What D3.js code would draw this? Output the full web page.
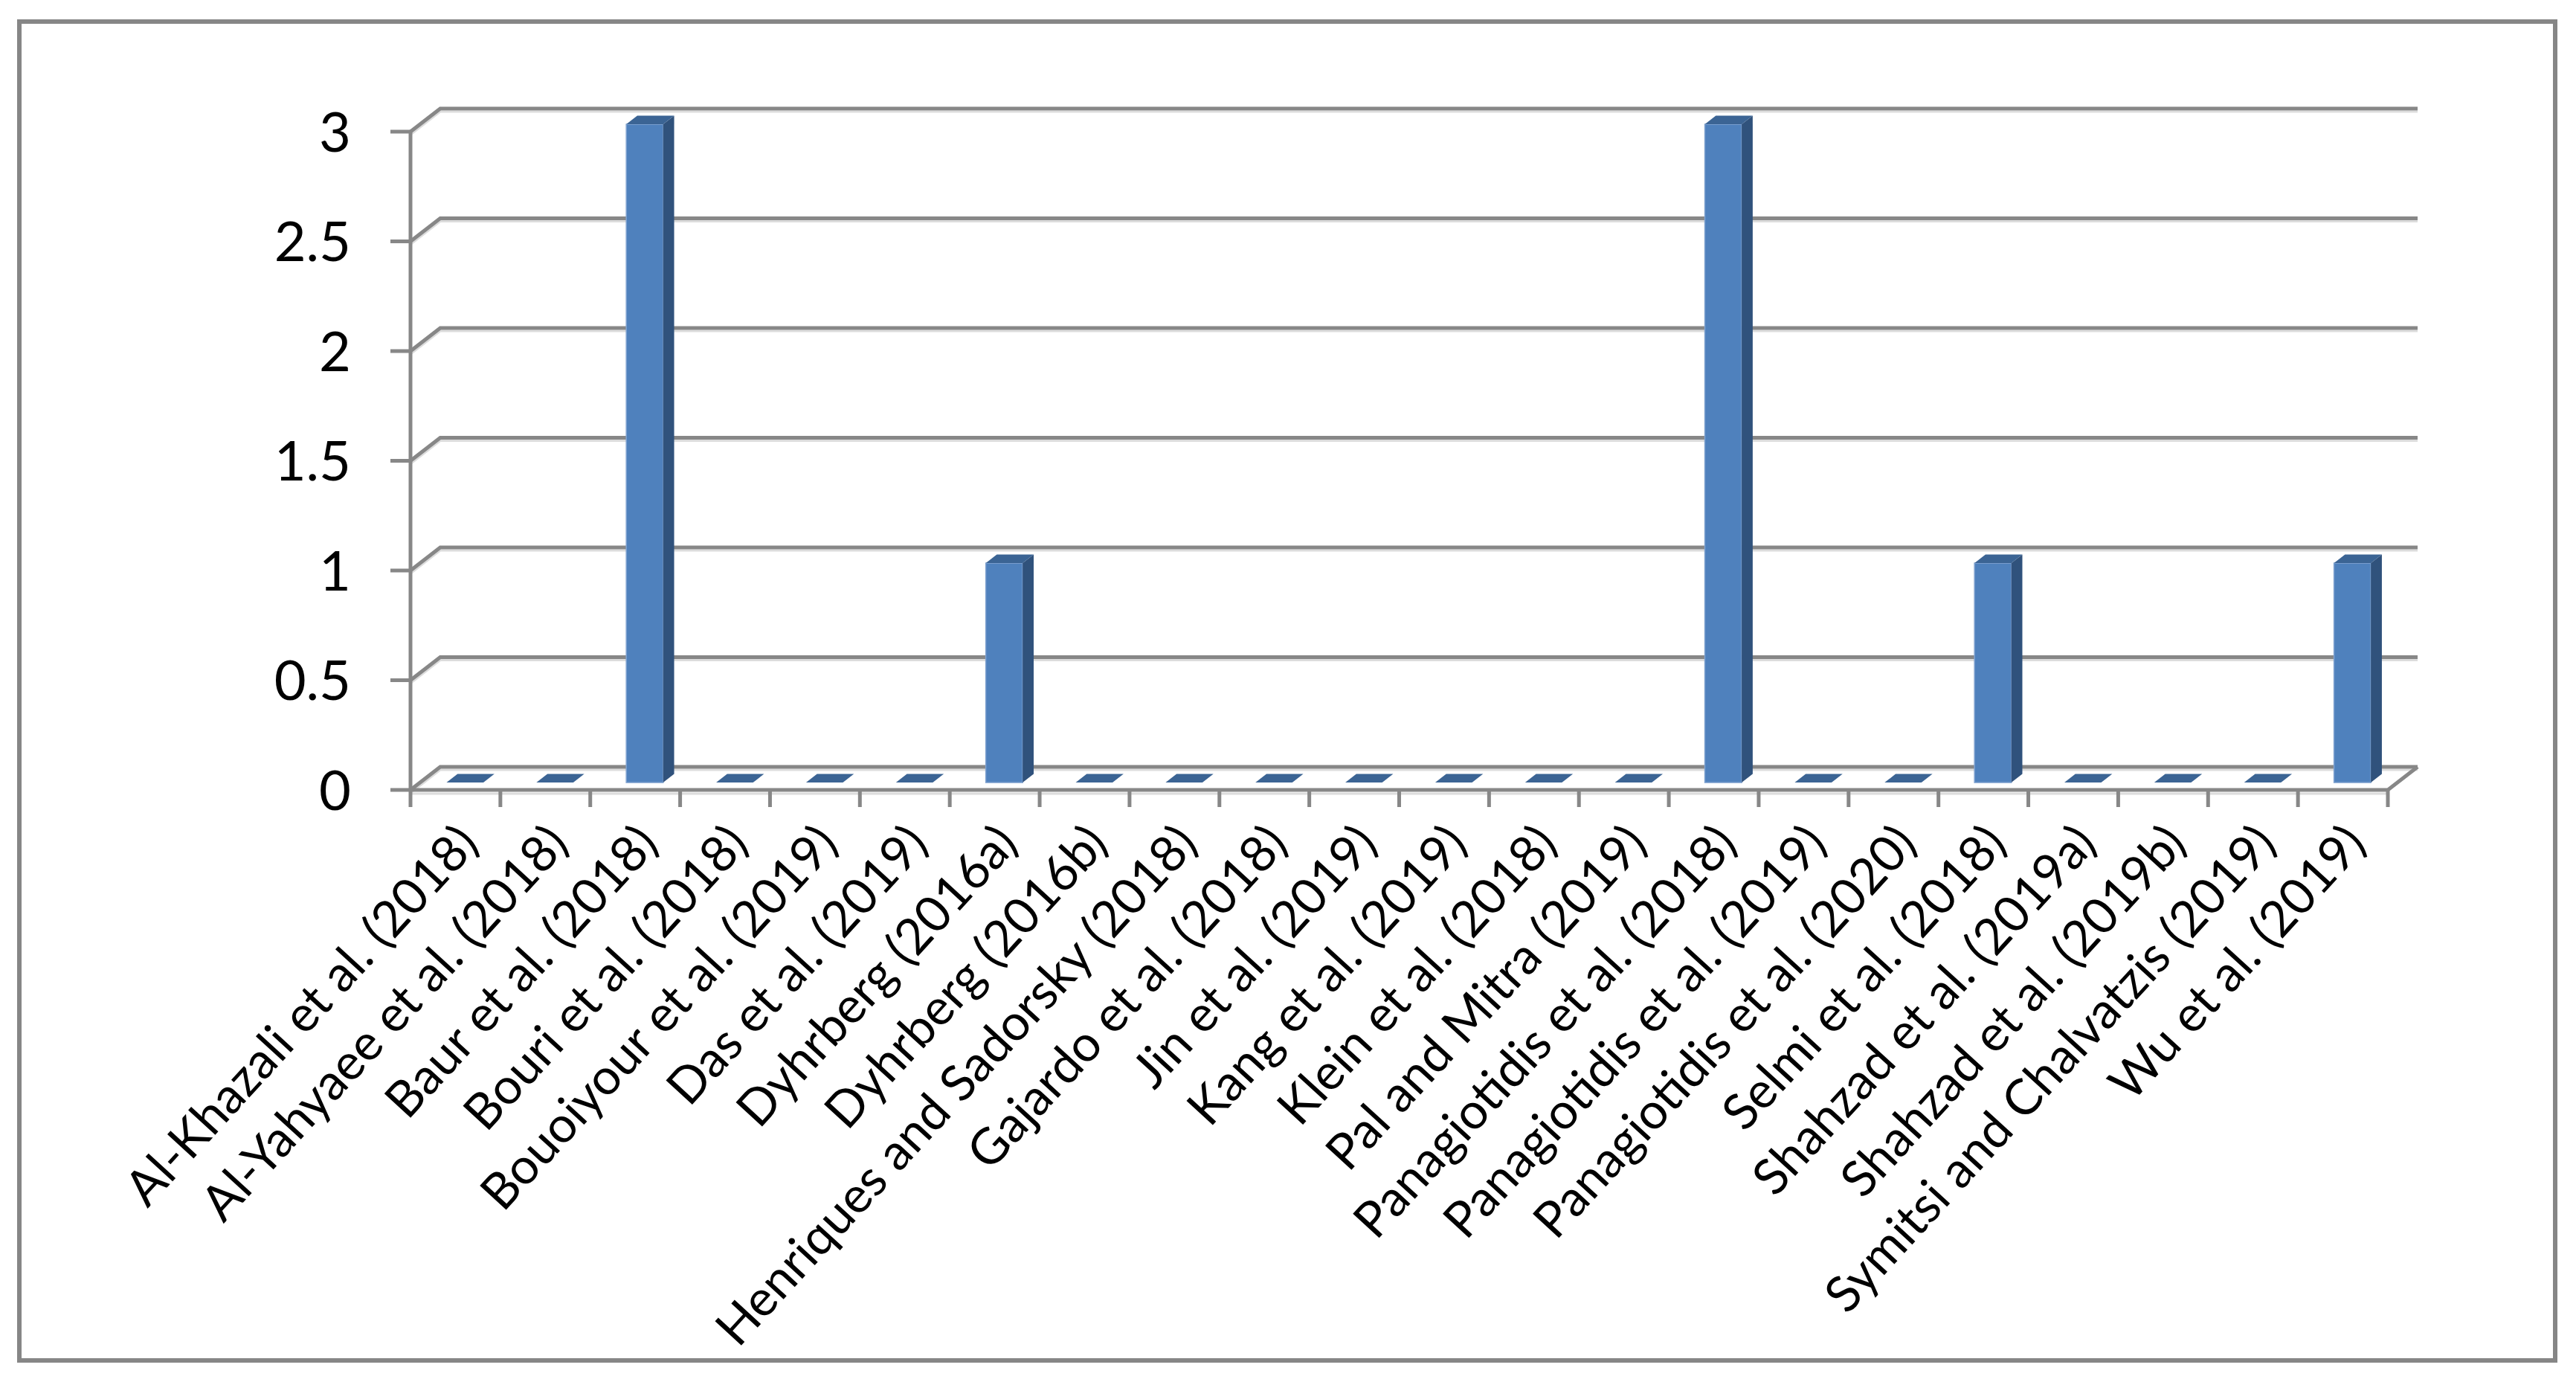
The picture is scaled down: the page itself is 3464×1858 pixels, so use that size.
<!DOCTYPE html>
<html>
<head>
<meta charset="utf-8">
<script src="https://cdn.jsdelivr.net/npm/d3@7"></script>
<style>
  html, body { margin: 0; padding: 0; background: #ffffff; }
  svg { display: block; }
</style>
</head>
<body>
<svg id="chart" width="3464" height="1858"></svg>
<script>
// ---- data ----
const categories = [
  "Al-Khazali et al. (2018)",
  "Al-Yahyaee et al. (2018)",
  "Baur et al. (2018)",
  "Bouri et al. (2018)",
  "Bouoiyour et al. (2019)",
  "Das et al. (2019)",
  "Dyhrberg (2016a)",
  "Dyhrberg (2016b)",
  "Henriques and Sadorsky (2018)",
  "Gajardo et al. (2018)",
  "Jin et al. (2019)",
  "Kang et al. (2019)",
  "Klein et al. (2018)",
  "Pal and Mitra (2019)",
  "Panagiotidis et al. (2018)",
  "Panagiotidis et al. (2019)",
  "Panagiotidis et al. (2020)",
  "Selmi et al. (2018)",
  "Shahzad et al. (2019a)",
  "Shahzad et al. (2019b)",
  "Symitsi and Chalvatzis (2019)",
  "Wu et al. (2019)"
];
const values = [0, 0, 3, 0, 0, 0, 1, 0, 0, 0, 0, 0, 0, 0, 3, 0, 0, 1, 0, 0, 0, 1];
const yTickValues = [0, 0.5, 1, 1.5, 2, 2.5, 3];
const yTickLabels = ["0", "0.5", "1", "1.5", "2", "2.5", "3"];

// ---- layout ----
const svg = d3.select("#chart");
const plotLeft = 552, plotRight = 3211;
const yZero = 1062, yTop = 177;
const depth = { dx: 40, dy: -31 };      // floor / wall depth offset
const fFront = 0.32, fBack = 0.69;      // bar position inside the depth
const barFrac = 0.41;

const gridColor = "#878787";
const fontFamily = "Lato, 'Open Sans', 'DejaVu Sans', sans-serif";

const x = d3.scaleBand().domain(categories).range([plotLeft, plotRight]).padding(0);
const y = d3.scaleLinear().domain([0, 3]).range([yZero, yTop]);

// outer border
svg.append("rect")
  .attr("x", 26).attr("y", 29)
  .attr("width", 3410).attr("height", 1800)
  .attr("fill", "#ffffff")
  .attr("stroke", "#868686")
  .attr("stroke-width", 6);

// back wall gridlines + left side wall diagonals
const grid = svg.append("g");
yTickValues.forEach(v => {
  const yf = y(v);
  const pts = [
    [plotLeft, yf],
    [plotLeft + depth.dx, yf + depth.dy],
    [plotRight + depth.dx, yf + depth.dy]
  ];
  grid.append("path")
    .attr("d", d3.line()(pts.map(p => [p[0], p[1] + 4])))
    .attr("fill", "none").attr("stroke", "#dcdcdc").attr("stroke-width", 3);
  grid.append("path")
    .attr("d", d3.line()(pts))
    .attr("fill", "none").attr("stroke", gridColor).attr("stroke-width", 5)
    .attr("stroke-linejoin", "miter");
});

// floor: front edge + right diagonal
grid.append("path")
  .attr("d", d3.line()([
    [plotLeft, yZero],
    [plotRight, yZero],
    [plotRight + depth.dx, yZero + depth.dy]
  ]))
  .attr("fill", "none").attr("stroke", gridColor).attr("stroke-width", 5);
grid.append("line")
  .attr("x1", plotLeft).attr("x2", plotRight)
  .attr("y1", yZero + 5).attr("y2", yZero + 5)
  .attr("stroke", "#dcdcdc").attr("stroke-width", 3);

// bars (3D columns)
const bars = svg.append("g");
const bw = x.bandwidth() * barFrac;
categories.forEach((c, i) => {
  const v = values[i];
  const cx = x(c) + x.bandwidth() / 2;
  const xl = cx - bw / 2 + depth.dx * fFront;
  const xr = xl + bw;
  const yb = y(0) + depth.dy * fFront;
  const yt = y(v) + depth.dy * fFront;
  const ddx = depth.dx * (fBack - fFront);
  const ddy = depth.dy * (fBack - fFront);
  if (v > 0) {
    bars.append("rect")
      .attr("x", xl).attr("y", yt)
      .attr("width", bw).attr("height", yb - yt)
      .attr("fill", "#4f81bd")
      .attr("stroke", "#7fa2d0").attr("stroke-width", 1.5);
    bars.append("path")
      .attr("d", d3.line()([[xr, yt], [xr + ddx, yt + ddy], [xr + ddx, yb + ddy], [xr, yb]]) + "Z")
      .attr("fill", "#30527c");
  }
  bars.append("path")
    .attr("d", d3.line()([[xl, yt], [xl + ddx, yt + ddy], [xr + ddx, yt + ddy], [xr, yt]]) + "Z")
    .attr("fill", "#3b6494");
});

// y axis line + ticks
const axes = svg.append("g");
axes.append("line")
  .attr("x1", plotLeft).attr("x2", plotLeft)
  .attr("y1", y(3)).attr("y2", yZero + 2)
  .attr("stroke", gridColor).attr("stroke-width", 5);
yTickValues.forEach((v, i) => {
  axes.append("line")
    .attr("x1", plotLeft - 27).attr("x2", plotLeft)
    .attr("y1", y(v)).attr("y2", y(v))
    .attr("stroke", gridColor).attr("stroke-width", 5);
  axes.append("text")
    .attr("x", 472).attr("y", y(v))
    .attr("dy", "0.36em")
    .attr("text-anchor", "end")
    .attr("font-family", fontFamily)
    .attr("font-size", 74)
    .attr("fill", "#000")
    .text(yTickLabels[i]);
});

// x ticks
const xTickPos = categories.map(c => x(c)).concat([plotRight]);
xTickPos.forEach(px => {
  axes.append("line")
    .attr("x1", px).attr("x2", px)
    .attr("y1", yZero).attr("y2", yZero + 23)
    .attr("stroke", gridColor).attr("stroke-width", 5);
});

// x labels, rotated
categories.forEach(c => {
  const cx = x(c) + x.bandwidth() / 2;
  axes.append("text")
    .attr("transform", `translate(${cx + 16},${1120}) rotate(-47.5)`)
    .attr("text-anchor", "end")
    .attr("dy", "0.36em")
    .attr("font-family", fontFamily)
    .attr("font-size", 67)
    .attr("fill", "#000")
    .text(c);
});
</script>
</body>
</html>
